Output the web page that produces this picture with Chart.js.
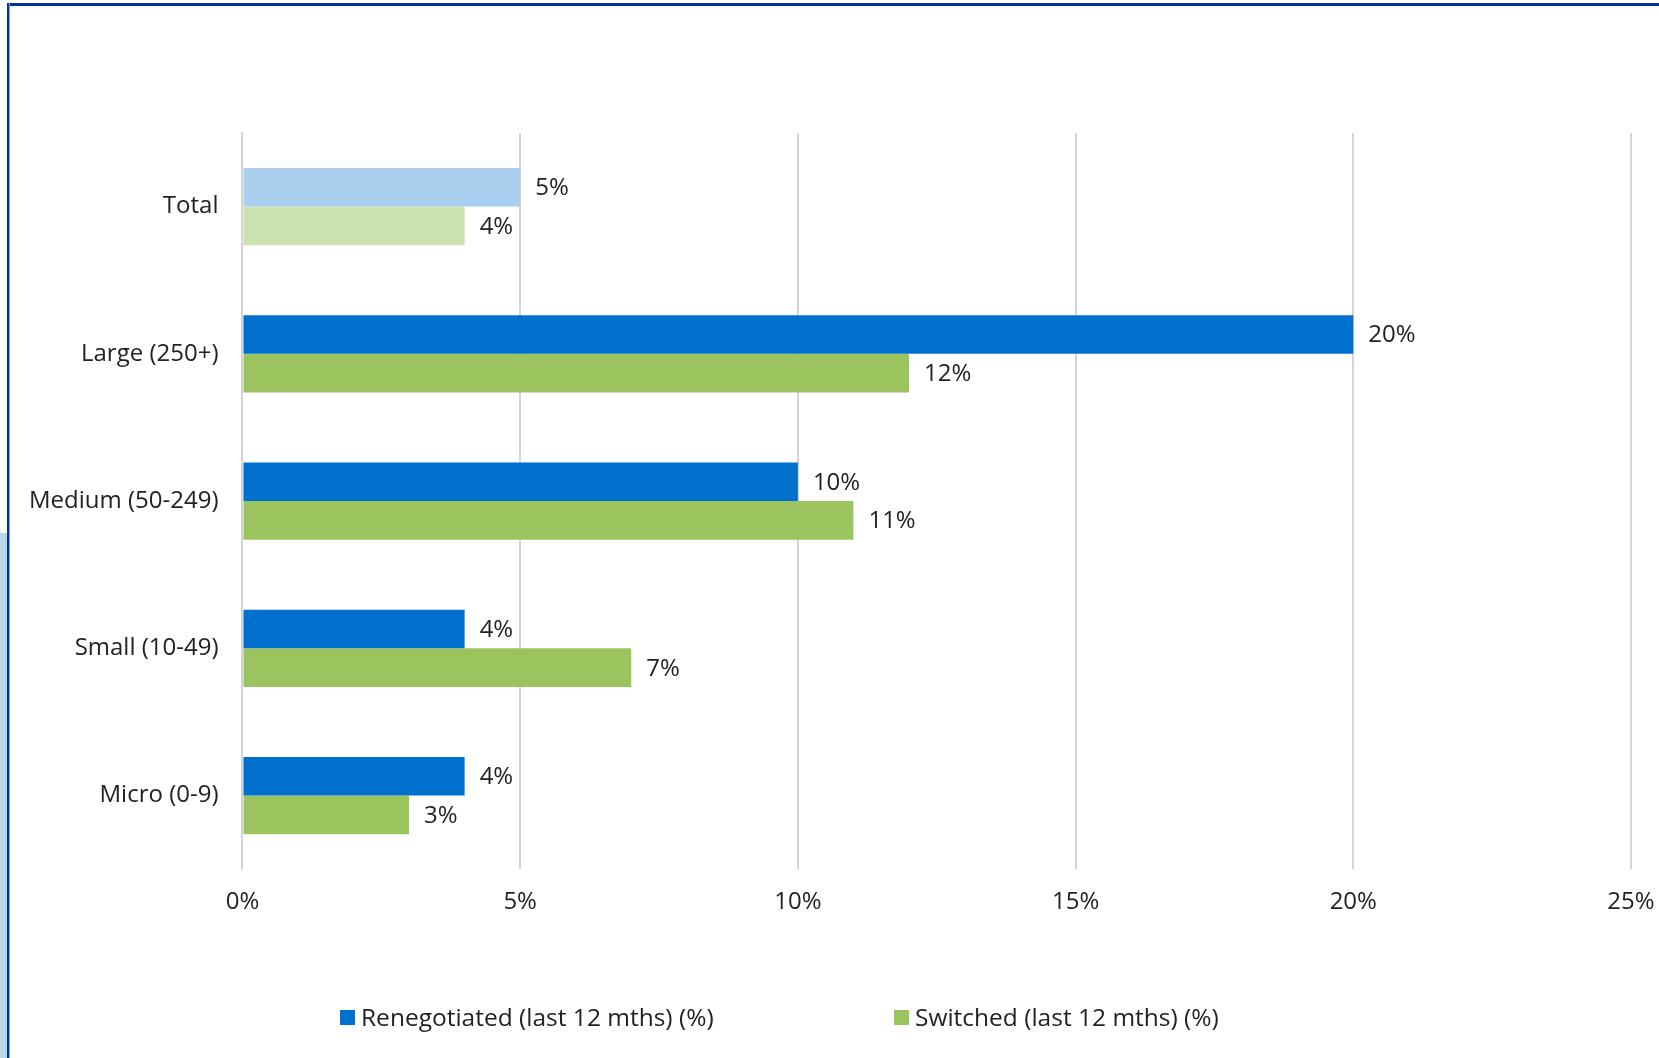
<!DOCTYPE html>
<html>
<head>
<meta charset="utf-8">
<script src="https://cdn.jsdelivr.net/npm/chart.js@4.4.1/dist/chart.umd.min.js"></script>
<style>
  html,body{margin:0;padding:0;background:#fff;}
  #wrap{position:relative;width:1659px;height:1058px;overflow:hidden;font-family:'Open Sans',sans-serif;}
  #c{position:absolute;left:0;top:0;}
  .bd-top{position:absolute;left:7px;top:3px;right:0;height:3px;background:#003399;}
  .bd-left{position:absolute;left:7px;top:3px;bottom:0;width:2px;background:#003399;border-right:1px solid #7fa6e6;}
  .strip{position:absolute;left:0;top:533px;bottom:0;width:7px;background:#b8d8ea;}
  .lg{position:absolute;top:1002px;height:30px;line-height:30px;font-size:24.5px;color:#222;white-space:nowrap;}
  .lg i{position:absolute;left:0;top:8px;width:15px;height:15px;}
  .lg span{position:absolute;left:21px;top:0;}
</style>
</head>
<body>
<div id="wrap">
  <canvas id="c" width="1659" height="1058"></canvas>
  <div class="strip"></div>
  <div class="bd-top"></div>
  <div class="bd-left"></div>
  <div id="legend"></div>
</div>
<script>
// ── DATA ──────────────────────────────────────────────────────────────
const categories = ['Total','Large (250+)','Medium (50-249)','Small (10-49)','Micro (0-9)'];
const renegotiated = [5,20,10,4,4];
const switched     = [4,12,11,7,3];
const xTicks = [0,5,10,15,20,25];
const seriesNames = ['Renegotiated (last 12 mths) (%)','Switched (last 12 mths) (%)'];

const BLUE='#0070cf', BLUE_L='#abcfef', GREEN='#9bc45f', GREEN_L='#cce2b0';
const FONT='Open Sans';
const FS=24;

// value labels at the end of each bar
const endLabels={
  id:'endLabels',
  afterDatasetsDraw(ch){
    const ctx=ch.ctx;
    ctx.save();
    ctx.font=`${FS}px ${FONT}`;
    ctx.fillStyle='#222';
    ctx.textBaseline='middle';
    ctx.textAlign='left';
    ch.data.datasets.forEach((ds,i)=>{
      ch.getDatasetMeta(i).data.forEach((bar,j)=>{
        ctx.fillText(ds.data[j]+'%', bar.x+15, bar.y+1);
      });
    });
    ctx.restore();
  }
};

// legend as html
const lgX=[340,894], lgCol=[BLUE,GREEN];
document.getElementById('legend').innerHTML=seriesNames.map((n,i)=>
  `<div class="lg" style="left:${lgX[i]}px"><i style="background:${lgCol[i]}"></i><span>${n}</span></div>`).join('');

new Chart(document.getElementById('c'),{
  type:'bar',
  data:{
    labels:categories,
    datasets:[
      {label:seriesNames[0],data:renegotiated,
       backgroundColor:renegotiated.map((v,i)=>i===0?BLUE_L:BLUE)},
      {label:seriesNames[1],data:switched,
       backgroundColor:switched.map((v,i)=>i===0?GREEN_L:GREEN)}
    ]
  },
  options:{
    indexAxis:'y',responsive:false,animation:false,
    categoryPercentage:0.525,barPercentage:1,
    layout:{padding:{top:133,right:28,left:5,bottom:122}},
    plugins:{tooltip:{enabled:false},legend:{display:false}},
    scales:{
      x:{min:0,max:25,
        afterBuildTicks:ax=>{ax.ticks=xTicks.map(v=>({value:v}));},
        afterFit:ax=>{ax.paddingRight=0;},
        ticks:{color:'#222',font:{family:FONT,size:FS},padding:19,maxRotation:0,callback:v=>v+'%'},
        grid:{color:'#d4d4d4',lineWidth:2,drawTicks:false},
        border:{display:false}},
      y:{ticks:{color:'#222',font:{family:FONT,size:FS},padding:24},
        grid:{display:false,drawTicks:false},
        border:{color:'#d4d4d4',width:2}}
    }
  },
  plugins:[endLabels]
});
</script>
</body>
</html>
